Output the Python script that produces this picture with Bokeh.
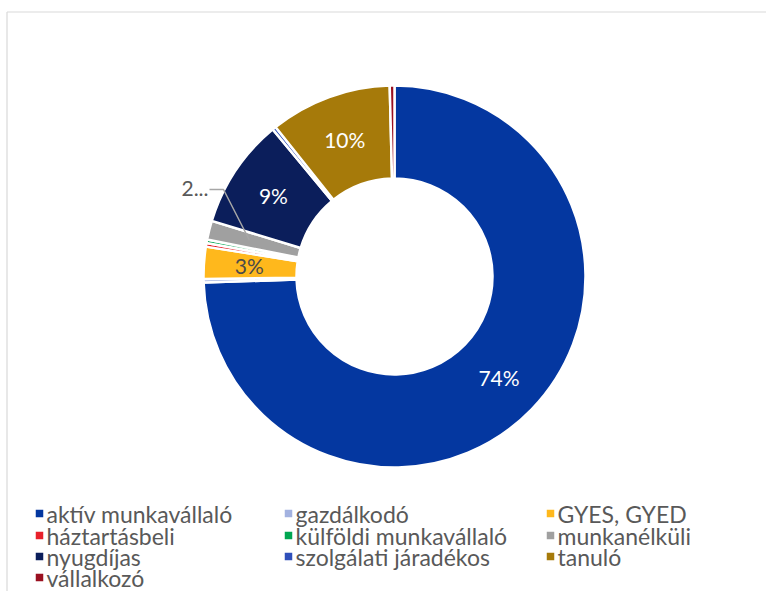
import numpy as np
from bokeh.plotting import figure
from bokeh.models import Range1d, ColumnDataSource
from bokeh.core.properties import value
from bokeh.embed import file_html
from bokeh.resources import INLINE

# ---- data ----
categories = ["aktív munkavállaló", "gazdálkodó", "GYES, GYED", "háztartásbeli",
              "külföldi munkavállaló", "munkanélküli", "nyugdíjas",
              "szolgálati járadékos", "tanuló", "vállalkozó"]
shares = [74.5, 0.3, 2.7, 0.3, 0.3, 1.6, 9.3, 0.3, 10.3, 0.4]
colors = ["#0437A0", "#A3B2E0", "#FFB81C", "#E8202A", "#00A651", "#A0A0A0",
          "#0B1E5B", "#2F4FBA", "#A67A0A", "#9A1020"]
label_texts = ["74%", "", "3%", "", "", "2...", "9%", "", "10%", ""]
label_colors = ["white", "white", "#4A4A4A", "white", "white", "#595959",
                "white", "white", "white", "white"]

W, H = 766, 591
FONT = "Lato"

def sx(x):  # screen x -> data
    return x

def sy(y):  # screen y -> data
    return H - y

p = figure(width=W, height=H, output_backend="svg", toolbar_location=None,
           x_range=Range1d(0, W), y_range=Range1d(0, H), min_border=0)
p.axis.visible = False
p.grid.visible = False
p.outline_line_color = None
p.background_fill_color = "white"

# chart frame (left and top edges visible in reference)
p.segment(x0=[sx(6.5), sx(6.5)], y0=[sy(11.5), sy(11.5)], x1=[sx(6.5), W], y1=[0, sy(11.5)],
          line_color="#D9D9D9", line_width=1.2)

# ---- donut ----
cx, cy = sx(394), sy(276)
R_out, R_in = 191, 98
vals = np.array(shares, dtype=float)
frac = vals / vals.sum()
bounds = np.pi / 2 - 2 * np.pi * np.concatenate([[0], np.cumsum(frac)])
starts = bounds[1:]   # smaller angle
ends = bounds[:-1]    # larger angle
mids = (starts + ends) / 2

src = ColumnDataSource(dict(start=starts, end=ends, color=colors, cat=categories))
p.annular_wedge(x=cx, y=cy, inner_radius=R_in, outer_radius=R_out,
                start_angle="start", end_angle="end", direction="anticlock",
                fill_color="color", line_color="white", line_width=2.5, source=src)

# inside labels
r_lab = (R_out + R_in) / 2 + 1
lx, ly, lt, lc = [], [], [], []
for i, t in enumerate(label_texts):
    if t and t != "2...":
        lx.append(cx + r_lab * np.cos(mids[i]))
        ly.append(cy + r_lab * np.sin(mids[i]))
        lt.append(t)
        lc.append(label_colors[i])
p.text(x=lx, y=ly, text=lt, text_color=lc, text_align="center", text_baseline="middle",
       text_font=value(FONT), text_font_size="21px")

# outside label with leader line (munkanélküli)
i_m = label_texts.index("2...")
px_ = cx + (r_lab + 4) * np.cos(mids[i_m])
py_ = cy + (r_lab + 4) * np.sin(mids[i_m])
p.line(x=[sx(209), sx(223), px_], y=[sy(189), sy(189), py_], line_color="#A6A6A6", line_width=1.5)
p.text(x=[sx(208)], y=[sy(188)], text=[label_texts[i_m]], text_color=label_colors[i_m],
       text_align="right", text_baseline="middle", text_font=value(FONT), text_font_size="21px")

# ---- legend ----
col_x = [39, 288, 550]
row_y = [513, 535, 556, 577]
mx, my, tx, ty = [], [], [], []
for i, c in enumerate(categories):
    col, row = i % 3, i // 3
    mx.append(sx(col_x[col]))
    my.append(sy(row_y[row]))
    tx.append(sx(col_x[col] + 7))
    ty.append(sy(row_y[row]))
p.scatter(x=mx, y=my, marker="square", size=7.5, fill_color=colors, line_color=None)
p.text(x=tx, y=ty, text=categories, text_color="#595959", text_align="left",
       text_baseline="middle", text_font=value(FONT), text_font_size="23px")

open("out.html", "w").write(file_html(p, INLINE))
